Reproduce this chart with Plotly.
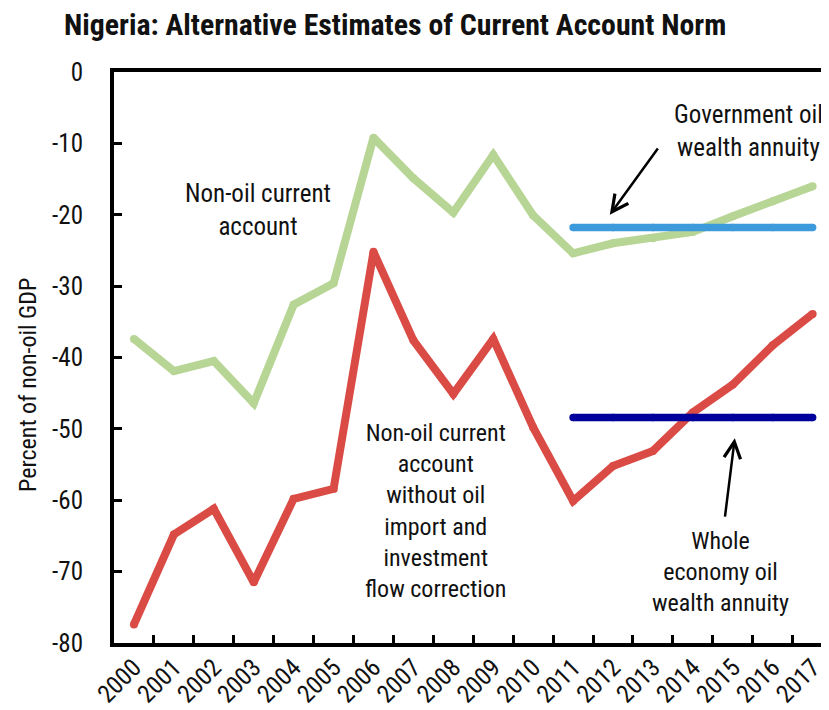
import plotly.graph_objects as go

years = [str(y) for y in range(2000, 2018)]
non_oil_ca = [-37.4, -41.9, -40.5, -46.4, -32.6, -29.6, -9.2, -14.9, -19.7, -11.6,
              -20.1, -25.4, -24.0, -23.3, -22.4, -20.2, -18.1, -16.0]
non_oil_ca_uncorr = [-77.4, -64.8, -61.2, -71.5, -59.8, -58.4, -25.2, -37.6, -45.1, -37.4,
                     -49.8, -60.1, -55.2, -53.1, -47.7, -43.8, -38.3, -33.9]
annuity_years = [str(y) for y in range(2011, 2018)]
gov_annuity = [-21.8] * len(annuity_years)
whole_annuity = [-48.4] * len(annuity_years)
y_ticks = [0, -10, -20, -30, -40, -50, -60, -70, -80]
y_tick_labels = ["0", "-10", "-20", "-30", "-40", "-50", "-60", "-70", "-80"]

FONT = "Liberation Sans Narrow, Arial Narrow, Roboto Condensed, DejaVu Sans Condensed, sans-serif"

# page body has an 8px margin: plot area placed so it lands at x 114..829+, y 72..643 on the page
L, T, B, R = 106, 64, 75, 8

fig = go.Figure()

def add_line(x, y, color, width):
    fig.add_trace(go.Scatter(
        x=x, y=y, mode="lines+markers",
        line=dict(color=color, width=width),
        marker=dict(color=color, size=width, line=dict(width=0)),
        hoverinfo="skip", showlegend=False))

add_line(years, non_oil_ca, "#B7D594", 8)
add_line(years, non_oil_ca_uncorr, "#DB4B45", 8)
add_line(annuity_years, gov_annuity, "#3D9ADB", 7.5)
add_line(annuity_years, whole_annuity, "#00009C", 7.5)

txt = dict(family=FONT, size=25, color="#111111")
txt2 = dict(family=FONT, size=24, color="#111111")

fig.add_annotation(x=3.1, y=-19.4, xref="x", yref="y", text="Non-oil current<br>account",
                   showarrow=False, font=txt, align="center", xanchor="center", yanchor="middle")
fig.add_annotation(x=7.56, y=-61.5, xref="x", yref="y",
                   text="Non-oil current<br>account<br>without oil<br>import and<br>investment<br>flow correction",
                   showarrow=False, font=txt2, align="center", xanchor="center", yanchor="middle")
fig.add_annotation(x=15.4, y=-8.3, xref="x", yref="y", text="Government oil<br>wealth annuity",
                   showarrow=False, font=txt, align="center", xanchor="center", yanchor="middle")
fig.add_annotation(x=14.7, y=-70.1, xref="x", yref="y", text="Whole<br>economy oil<br>wealth annuity",
                   showarrow=False, font=txt2, align="center", xanchor="center", yanchor="middle")

# arrows
fig.add_annotation(x=11.92, y=-20.0, ax=13.15, ay=-10.5, xref="x", yref="y", axref="x", ayref="y",
                   text="", showarrow=True, arrowhead=5, arrowsize=1.3, arrowwidth=2.5, arrowcolor="#000000")
fig.add_annotation(x=15.05, y=-51.3, ax=14.8, ay=-62.5, xref="x", yref="y", axref="x", ayref="y",
                   text="", showarrow=True, arrowhead=5, arrowsize=1.3, arrowwidth=2.5, arrowcolor="#000000")

# y axis title
fig.add_annotation(x=(20 - L) / 715, y=(635 - 377) / 571, xref="paper", yref="paper",
                   text="Percent of non-oil GDP", xanchor="center", yanchor="middle",
                   textangle=-90, showarrow=False, font=dict(family=FONT, size=24, color="#111111"))

fig.update_layout(
    width=829, height=710,
    margin=dict(l=L, r=R, t=T, b=B, autoexpand=False),
    paper_bgcolor="white", plot_bgcolor="white",
    title=dict(text="<b>Nigeria: Alternative Estimates of Current Account Norm</b>",
               x=56 / 829, xanchor="left", xref="container",
               y=1 - 17 / 710, yanchor="middle", yref="container",
               font=dict(family=FONT, size=29.8, color="#111111")),
    font=dict(family=FONT, size=25, color="#111111"),
)

fig.update_xaxes(type="category", range=[-0.5, 17.41], tickson="boundaries",
                 ticks="inside", ticklen=8, tickwidth=3, tickcolor="black",
                 showline=True, linewidth=4, linecolor="black", mirror=True,
                 showgrid=False, zeroline=False, tickangle=-45, automargin=False,
                 ticklabelstandoff=-4,
                 tickfont=dict(family=FONT, size=25, color="#111111"))
fig.update_yaxes(range=[-80, 0], tickvals=y_ticks, ticktext=y_tick_labels,
                 ticks="inside", ticklen=8, tickwidth=3, tickcolor="black",
                 showline=True, linewidth=4, linecolor="black",
                 showgrid=False, zeroline=False, ticklabelstandoff=22, automargin=False,
                 tickfont=dict(family=FONT, size=25, color="#111111"))

fig.write_html("out.html")
